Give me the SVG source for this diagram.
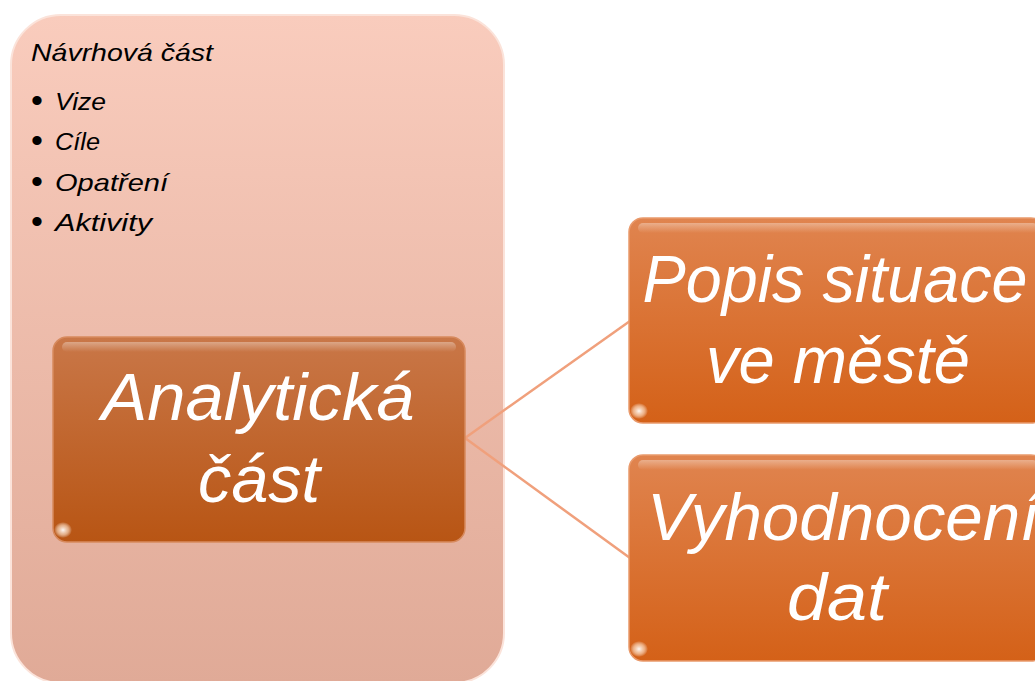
<svg xmlns="http://www.w3.org/2000/svg" width="1035" height="681" viewBox="0 0 1035 681">
<defs>
<linearGradient id="gBig" x1="0" y1="0" x2="0" y2="1">
<stop offset="0" stop-color="#f9ccbd"/>
<stop offset="1" stop-color="#e0aa97"/>
</linearGradient>
<linearGradient id="gDark" x1="0" y1="0" x2="0" y2="1">
<stop offset="0" stop-color="#c97748"/>
<stop offset="1" stop-color="#b85514"/>
</linearGradient>
<linearGradient id="gOrange" x1="0" y1="0" x2="0" y2="1">
<stop offset="0" stop-color="#e0844f"/>
<stop offset="1" stop-color="#d46118"/>
</linearGradient>
<linearGradient id="gHi" x1="0" y1="0" x2="0" y2="1">
<stop offset="0" stop-color="#ffffff" stop-opacity="0.35"/>
<stop offset="1" stop-color="#ffffff" stop-opacity="0"/>
</linearGradient>
<radialGradient id="gGlint" cx="0.5" cy="0.5" r="0.5">
<stop offset="0" stop-color="#ffffff" stop-opacity="0.95"/>
<stop offset="0.6" stop-color="#ffe6cf" stop-opacity="0.6"/>
<stop offset="1" stop-color="#ffffff" stop-opacity="0"/>
</radialGradient>
</defs>
<style>
.small{font-family:"Liberation Sans",Arial,sans-serif;font-style:italic;font-size:24px;fill:#000}
.bul{font-family:"Liberation Sans",Arial,sans-serif;font-size:34px;fill:#000}
.big{font-family:"Liberation Sans",Arial,sans-serif;font-style:italic;font-size:66px;fill:#fff;text-anchor:middle}
.conn{stroke:#f0a07c;stroke-width:2.5;fill:none}
</style>
<rect width="1035" height="681" fill="#ffffff"/>
<g id="navrhova">
<rect x="11" y="15" width="493" height="668" rx="50" fill="url(#gBig)" stroke="#fbe3da" stroke-width="2"/>
<text class="small" x="31" y="61" textLength="182" lengthAdjust="spacingAndGlyphs">Návrhová část</text>
<text class="bul" x="31" y="112">•</text>
<text class="small" x="55" y="110" textLength="51" lengthAdjust="spacingAndGlyphs">Vize</text>
<text class="bul" x="31" y="152">•</text>
<text class="small" x="55" y="150" textLength="45" lengthAdjust="spacingAndGlyphs">Cíle</text>
<text class="bul" x="31" y="193">•</text>
<text class="small" x="55" y="191" textLength="113" lengthAdjust="spacingAndGlyphs">Opatření</text>
<text class="bul" x="31" y="233">•</text>
<text class="small" x="55" y="231" textLength="97" lengthAdjust="spacingAndGlyphs">Aktivity</text>
</g>
<g id="connectors">
<line class="conn" x1="465" y1="438" x2="630" y2="321"/>
<line class="conn" x1="465" y1="438" x2="630" y2="558"/>
</g>
<g id="analyticka">
<rect x="53" y="337" width="412" height="205" rx="14" fill="url(#gDark)" stroke="#d78a5e" stroke-width="1.5"/>
<rect x="62" y="342" width="394" height="10" rx="5" fill="url(#gHi)"/>
<ellipse cx="63" cy="530" rx="9" ry="8" fill="url(#gGlint)"/>
<text class="big" x="258" y="420" textLength="313" lengthAdjust="spacingAndGlyphs">Analytická</text>
<text class="big" x="259" y="502" textLength="122" lengthAdjust="spacingAndGlyphs">část</text>
</g>
<g id="popis">
<rect x="629" y="218" width="416" height="205" rx="14" fill="url(#gOrange)" stroke="#e99a6c" stroke-width="1.5"/>
<rect x="638" y="223" width="400" height="10" rx="5" fill="url(#gHi)"/>
<ellipse cx="639" cy="411" rx="9" ry="8" fill="url(#gGlint)"/>
<text class="big" x="835" y="302" textLength="385" lengthAdjust="spacingAndGlyphs">Popis situace</text>
<text class="big" x="838" y="383" textLength="264" lengthAdjust="spacingAndGlyphs">ve městě</text>
</g>
<g id="vyhodnoceni">
<rect x="629" y="455" width="416" height="206" rx="14" fill="url(#gOrange)" stroke="#e99a6c" stroke-width="1.5"/>
<rect x="638" y="460" width="400" height="10" rx="5" fill="url(#gHi)"/>
<ellipse cx="639" cy="649" rx="9" ry="8" fill="url(#gGlint)"/>
<text class="big" x="843" y="540" textLength="392" lengthAdjust="spacingAndGlyphs">Vyhodnocení</text>
<text class="big" x="837" y="620" textLength="100" lengthAdjust="spacingAndGlyphs">dat</text>
</g>
</svg>
